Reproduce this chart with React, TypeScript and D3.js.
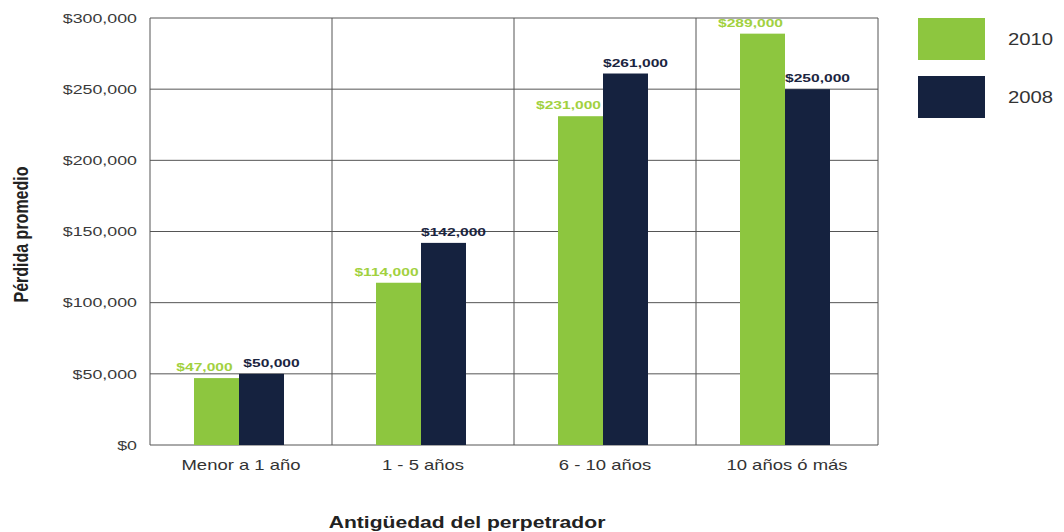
import React from "react";
import * as d3 from "d3";

const categories = ["Menor a 1 año", "1 - 5 años", "6 - 10 años", "10 años ó más"];
const series = ["2010", "2008"];
const values2010 = [47000, 114000, 231000, 289000];
const values2008 = [50000, 142000, 261000, 250000];
const yTicks = [0, 50000, 100000, 150000, 200000, 250000, 300000];

const colors: Record<string, string> = { "2010": "#8dc63f", "2008": "#15223f" };
const labelColors: Record<string, string> = { "2010": "#a2d13f", "2008": "#1b2540" };

const SX = 1.32;

function T(props: {
  x: number; y: number; anchor?: string; size: number; weight?: string; fill: string; sx?: number; rotate?: boolean; dy?: string; children: React.ReactNode;
}) {
  const { x, y, anchor = "start", size, weight = "normal", fill, sx = SX, rotate, dy, children } = props;
  const tf = rotate
    ? `translate(${x},${y}) rotate(-90) scale(1,${sx})`
    : `translate(${x},${y}) scale(${sx},1)`;
  return (
    <text transform={tf} textAnchor={anchor} fontSize={size} fontWeight={weight} fill={fill} dy={dy}>
      {children}
    </text>
  );
}

export default function App() {
  const W = 1064, H = 532;
  const left = 150, right = 878, top = 18, bottom = 445;
  const x = d3.scaleBand<string>().domain(categories).range([left, right]).paddingInner(0).paddingOuter(0);
  const y = d3.scaleLinear().domain([0, 300000]).range([bottom, top]);
  const inner = d3.scaleBand<string>().domain(series).range([0, 90]);
  const fmt = (v: number) => "$" + d3.format(",")(v);
  const data: Record<string, number[]> = { "2010": values2010, "2008": values2008 };
  const font = "Liberation Sans, Arial, sans-serif";

  return (
    <svg width={W} height={H} style={{ position: "absolute", left: 0, top: 0, background: "#fff" }} fontFamily={font}>
      {yTicks.map((t) => (
        <g key={t}>
          <line x1={left} x2={right} y1={y(t)} y2={y(t)} stroke="#555" strokeWidth={1} />
          <T x={left - 13} y={y(t)} dy="0.35em" anchor="end" size={13.5} fill="#3a3a3a">
            {fmt(t)}
          </T>
        </g>
      ))}
      {categories.map((c) => (
        <line key={c} x1={x(c)!} x2={x(c)!} y1={top} y2={bottom} stroke="#555" strokeWidth={1} />
      ))}
      <line x1={right} x2={right} y1={top} y2={bottom} stroke="#555" strokeWidth={1} />
      {categories.map((c, i) => {
        const gx = x(c)! + x.bandwidth() / 2 - 47;
        return (
          <g key={c}>
            {series.map((s) => {
              const v = data[s][i];
              const bx = gx + inner(s)!;
              return (
                <rect key={s} x={bx} y={y(v)} width={inner.bandwidth()} height={bottom - y(v)} fill={colors[s]} />
              );
            })}
            {series.map((s) => {
              const v = data[s][i];
              const bx = gx + inner(s)! + inner.bandwidth() / 2 + (s === "2010" ? -12 : 10);
              return (
                <T key={s} x={bx} y={y(v) - 7} anchor="middle" size={11} weight="bold" fill={labelColors[s]} sx={1.42}>
                  {fmt(v)}
                </T>
              );
            })}
            <T x={x(c)! + x.bandwidth() / 2} y={bottom + 25} anchor="middle" size={14} fill="#333">
              {c}
            </T>
          </g>
        );
      })}
      <T x={28} y={(top + bottom) / 2 + 3} anchor="middle" size={16} weight="bold" fill="#222" rotate sx={1.25}>
        Pérdida promedio
      </T>
      <T x={467} y={528} anchor="middle" size={16} weight="bold" fill="#222" sx={1.32}>
        Antigüedad del perpetrador
      </T>
      {series.map((s, i) => (
        <g key={s}>
          <rect x={918} y={18 + i * 58} width={67} height={42} fill={colors[s]} />
          <T x={1008} y={39 + i * 58} dy="0.35em" size={16} fill="#333" sx={1.27}>
            {s}
          </T>
        </g>
      ))}
    </svg>
  );
}
